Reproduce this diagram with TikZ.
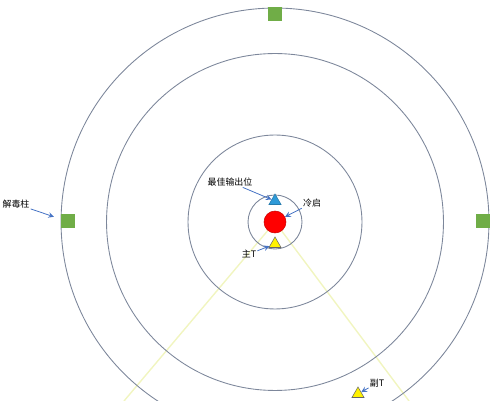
\documentclass[tikz,border=0pt]{standalone}
\usepackage{fontspec}
\newfontfamily\cjk{Noto Sans CJK SC}
\usepackage{tikz}
\usetikzlibrary{shapes.geometric,positioning}
\definecolor{ringgray}{HTML}{7D879B}
\definecolor{padgreen}{HTML}{70AD47}
\definecolor{arrowblue}{HTML}{4472C4}
\definecolor{tipblue}{HTML}{2E9AD8}
\definecolor{beamyellow}{HTML}{F1F5C0}

\begin{document}
\begin{tikzpicture}[x=0.02cm,y=-0.02cm,>=stealth,
   ring/.style={circle,draw=ringgray,line width=0.5pt,inner sep=0pt},
   pad/.style={rectangle,fill=padgreen,minimum size=0.28cm,inner sep=0pt},
   tri/.style={regular polygon,regular polygon sides=3,minimum size=0.28cm,inner sep=0pt,line width=0.3pt},
   lab/.style={font=\cjk\fontsize{5.1}{6}\selectfont,inner sep=0.5pt},
   pointer/.style={->,color=arrowblue,line width=0.45pt}] 
   \path[use as bounding box,clip] (0,0) rectangle (500,401);
   \coordinate (o) at (275,222);
   \coordinate (e_1) at (124,401);
   \coordinate (e_2) at (409,401);
%   beams from the centre
   \draw[beamyellow,line width=0.8pt] (o) -- (e_1) (o) -- (e_2);
   \node[ring,minimum size=1.08cm] (r_1) at (o) {};
   \node[ring,minimum size=3.48cm] (r_2) at (o) {};
   \node[ring,minimum size=6.74cm] (r_3) at (o) {};
   \node[ring,minimum size=8.56cm] (r_4) at (o) {};
   \node[circle,fill=red,draw=red!80!black,line width=0.3pt,minimum size=0.44cm,inner sep=0pt] (core) at (o) {};
   \node[tri,fill=tipblue,draw=tipblue!80!black] (t_1) at (275,201) {};
   \node[tri,fill=yellow,draw=black!60] (t_2) at (275,244) {};
   \node[tri,fill=yellow,draw=black!60] (t_3) at (358,394) {};
   \node[pad] (g_1) at (275,14) {};
   \node[pad] (g_2) at (68,221.5) {};
   \node[pad] (g_3) at (483,221.5) {};
%   labels
   \node[lab] (l_1) at (230,182) {最佳输出位};
   \node[lab] (l_2) at (312,203) {冷启};
   \node[lab] (l_3) at (249,254) {主T};
   \node[lab] (l_4) at (16,204) {解毒柱};
   \node[lab] (l_5) at (377,383) {副T};
    \path[pointer] 
    (l_1) edge (t_1)
    (l_2) edge (core)
    (l_3) edge (t_2)
    (l_4) edge [shorten >=4pt] (g_2)
    (l_5) edge (t_3);
\end{tikzpicture}
\end{document}
